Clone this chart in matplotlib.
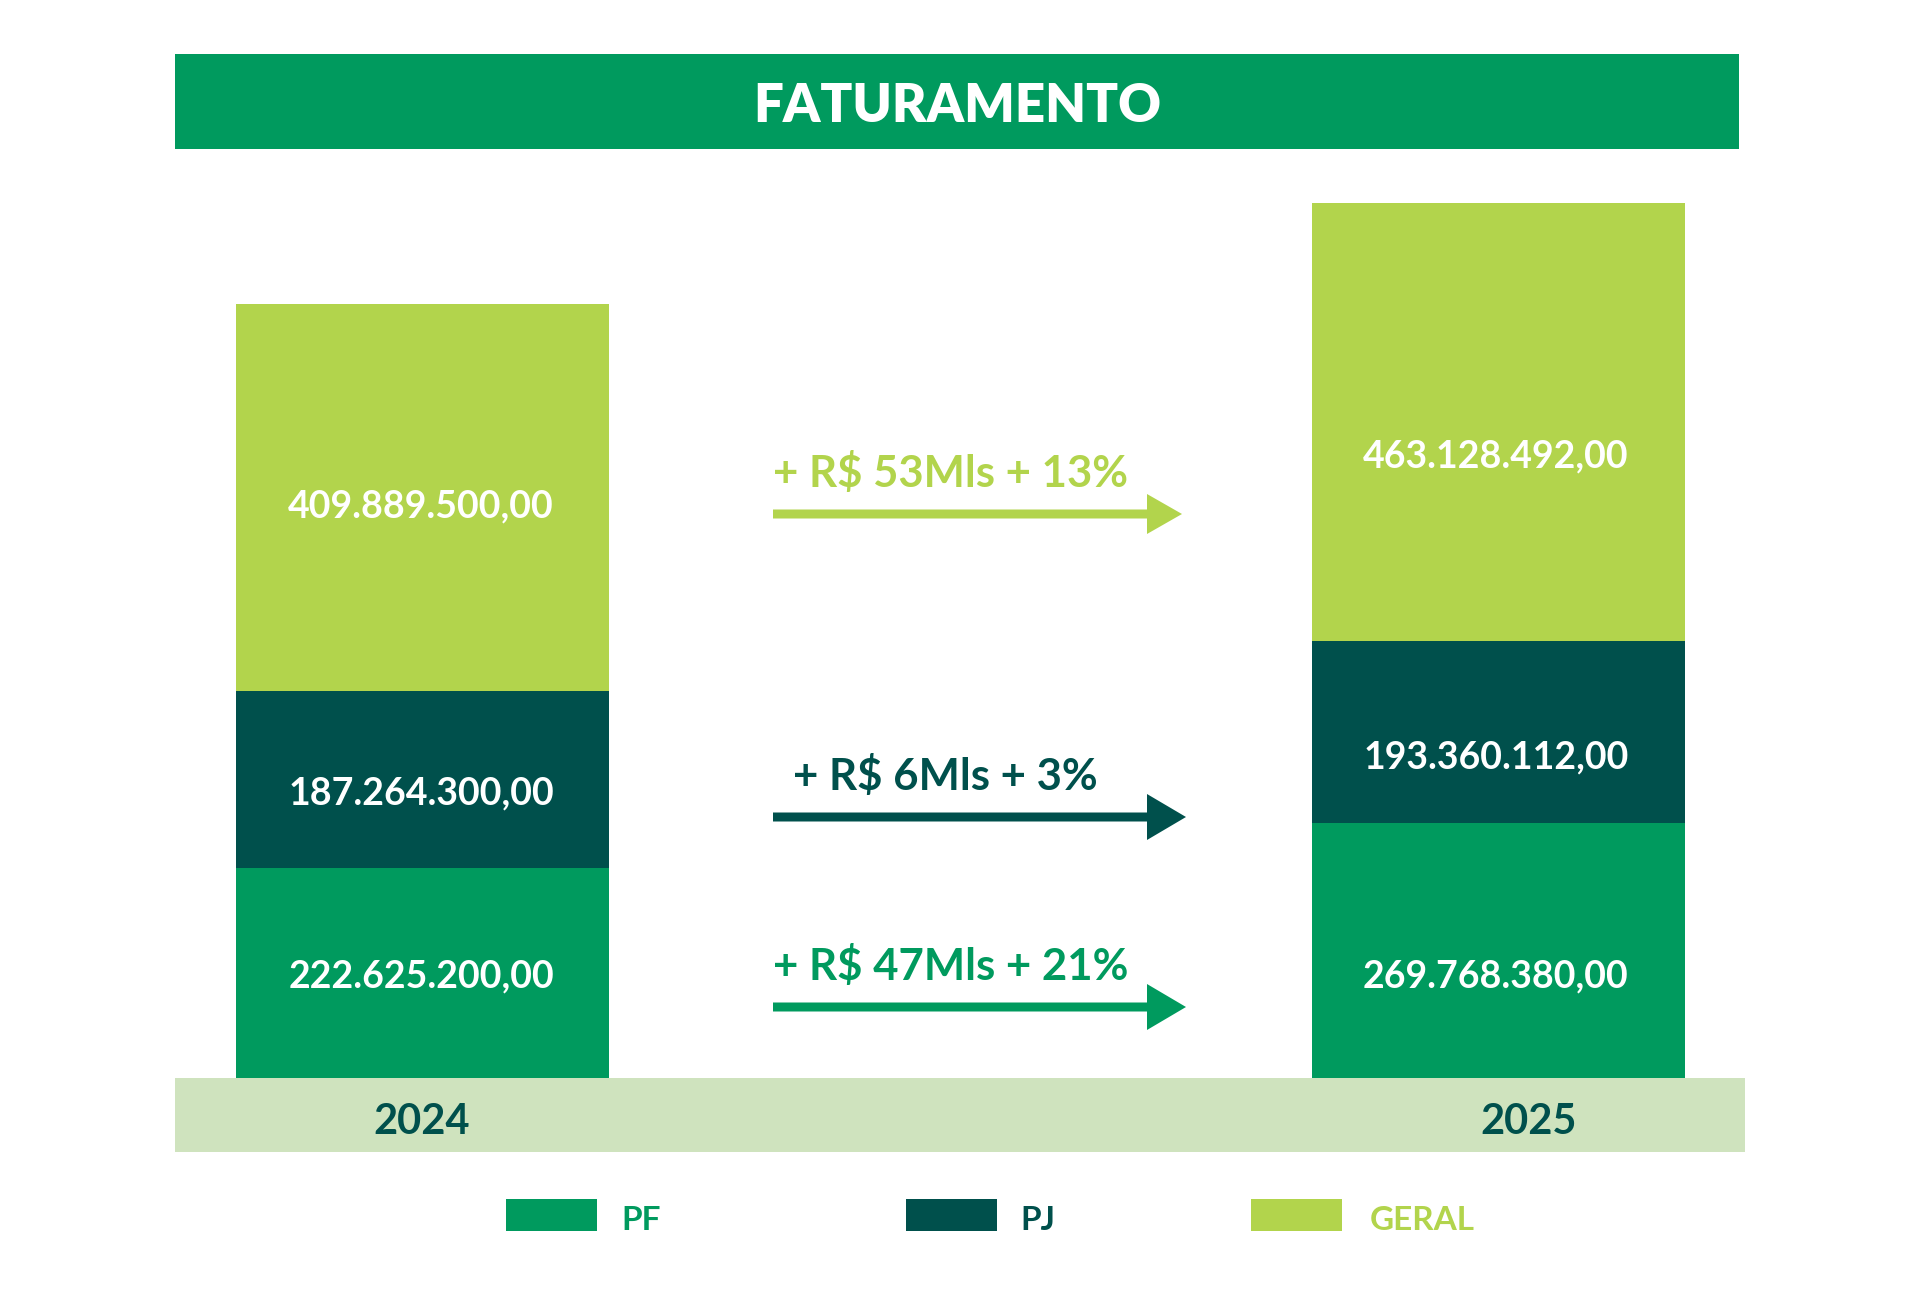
import matplotlib
matplotlib.use("Agg")
import matplotlib.pyplot as plt
from matplotlib.patches import Rectangle, FancyArrow

# dados (R$)
anos = ["2024", "2025"]
pf = [222625200.00, 269768380.00]
pj = [187264300.00, 193360112.00]
geral = [409889500.00, 463128492.00]
series = ["PF", "PJ", "GERAL"]

C_PF = "#009A5E"
C_PJ = "#00504C"
C_GERAL = "#B2D44C"
C_BAND = "#CFE3BE"

plt.rcParams["font.family"] = ["Lato", "DejaVu Sans"]


def brl(v):
    s = f"{v:,.2f}"
    return s.replace(",", "X").replace(".", ",").replace("X", ".")


W, H = 1920, 1300
fig = plt.figure(figsize=(W / 100, H / 100), dpi=100)
fig.patch.set_facecolor("white")

# camada de decoracao em pixels
deco = fig.add_axes([0, 0, 1, 1], zorder=0)
deco.set_xlim(0, W)
deco.set_ylim(H, 0)
deco.axis("off")

# barras
base_px, top_px = 1078, 203
totais = [a + b + c for a, b, c in zip(pf, pj, geral)]
ax = fig.add_axes([0, (H - base_px) / H, 1, (base_px - top_px) / H], zorder=1)
ax.patch.set_alpha(0)
ax.axis("off")
x = [0, 1]
unit = 1498 - 422.5
ax.set_xlim(-422.5 / unit, (W - 422.5) / unit)
ax.set_ylim(0, max(totais))
bw = 373 / unit

bottom_pj = pf
bottom_geral = [a + b for a, b in zip(pf, pj)]
ax.bar(x, pf, bw, color=C_PF, linewidth=0)
ax.bar(x, pj, bw, bottom=bottom_pj, color=C_PJ, linewidth=0)
ax.bar(x, geral, bw, bottom=bottom_geral, color=C_GERAL, linewidth=0)

# rotulos dos valores (altura em pixels da figura, como no original)
rotulo_y = {0: [976, 793, 506], 1: [976, 757, 456]}
centros_px = [421, 1496]
for i in x:
    for k, vals in enumerate([pf, pj, geral]):
        deco.text(centros_px[i], rotulo_y[i][k], brl(vals[i]), ha="center",
                  va="center", color="white", fontsize=27, fontweight="bold",
                  zorder=5)
deco.set_zorder(2)
deco.patch.set_alpha(0)

# faixa do titulo
deco.add_patch(Rectangle((175, 54), 1739 - 175, 149 - 54, color=C_PF, linewidth=0))
deco.text((175 + 1739) / 2, 107, "FATURAMENTO", ha="center", va="center",
          color="white", fontsize=38, fontweight="heavy")

# faixa da base
deco.add_patch(Rectangle((175, 1078), 1745 - 175, 1152 - 1078, color=C_BAND, linewidth=0))
for ano, xp in zip(anos, [422, 1529]):
    deco.text(xp, 1122, ano, ha="center", va="center", color=C_PJ,
              fontsize=30, fontweight="bold")

# setas de variacao
setas = [
    (geral, C_GERAL, 514, 773, 1182, 487, 773, 40, 35),
    (pj, C_PJ, 817, 773, 1186, 790, 793, 46, 39),
    (pf, C_PF, 1007, 773, 1186, 980, 773, 46, 39),
]
for vals, cor, y, x0, x1, ty, tx, hw, hl in setas:
    dif = vals[1] - vals[0]
    pct = dif / vals[0] * 100
    deco.add_patch(FancyArrow(x0, y, x1 - x0, 0, width=9, head_width=hw,
                              head_length=hl, length_includes_head=True,
                              color=cor, linewidth=0))
    deco.text(tx, ty, f"+ R$ {dif / 1e6:.0f}Mls + {pct:.0f}%", ha="left",
              va="baseline", color=cor, fontsize=31.5, fontweight="bold")

# legenda
for nome, cor, bx, tx in zip(series, [C_PF, C_PJ, C_GERAL], [506, 906, 1251], [621, 1020, 1370]):
    deco.add_patch(Rectangle((bx, 1199), 91, 32, color=cor, linewidth=0))
    deco.text(tx, 1220, nome, ha="left", va="center", color=cor,
              fontsize=24, fontweight="bold")

fig.savefig("out.png", dpi=100)
